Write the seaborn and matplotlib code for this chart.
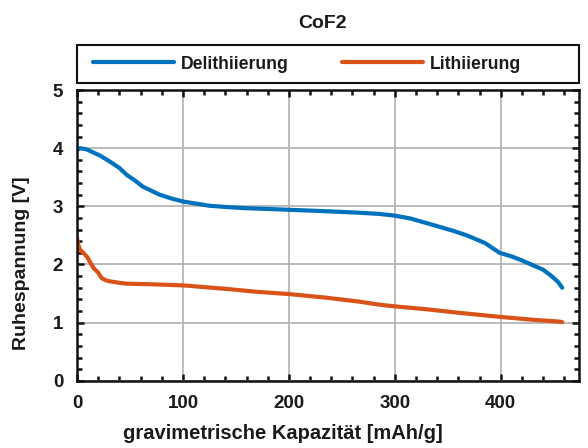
import numpy as np
import pandas as pd
import matplotlib
matplotlib.use("Agg")
import matplotlib.pyplot as plt
import seaborn as sns
from matplotlib.ticker import MultipleLocator
from matplotlib.patches import Rectangle

# Data
deli_x = [0, 3, 9, 15, 22, 31, 40, 47, 55, 62, 70, 78, 90, 101, 115, 125, 140, 157, 180, 201, 230, 267, 285, 300, 315, 336, 355, 368, 385, 399, 410, 420, 430, 440, 448, 454, 458]
deli_y = [3.97, 4.0, 3.98, 3.93, 3.87, 3.77, 3.66, 3.54, 3.44, 3.34, 3.27, 3.2, 3.13, 3.08, 3.04, 3.01, 2.99, 2.97, 2.955, 2.94, 2.92, 2.89, 2.87, 2.84, 2.79, 2.68, 2.58, 2.5, 2.37, 2.2, 2.14, 2.07, 1.99, 1.91, 1.8, 1.7, 1.6]
lith_x = [0, 1, 3, 6, 10, 12, 15.5, 20, 23, 27, 31, 40, 47, 70, 101, 141, 170, 201, 235, 267, 285, 300, 330, 360, 399, 430, 454, 458]
lith_y = [2.46, 2.35, 2.25, 2.2, 2.12, 2.05, 1.94, 1.86, 1.77, 1.73, 1.71, 1.685, 1.67, 1.66, 1.64, 1.58, 1.53, 1.49, 1.43, 1.36, 1.31, 1.28, 1.23, 1.17, 1.1, 1.05, 1.02, 1.01]
labels = ["Delithiierung", "Lithiierung"]
colors = ["#0072BD", "#D95319"]

df = pd.concat([
    pd.DataFrame({"x": deli_x, "y": deli_y, "Serie": labels[0]}),
    pd.DataFrame({"x": lith_x, "y": lith_y, "Serie": labels[1]}),
])

sns.set_theme(style="white")
plt.rcParams['font.family'] = ['Liberation Sans', 'DejaVu Sans']
plt.rcParams['font.weight'] = 'bold'

fig = plt.figure(figsize=(5.88, 4.48), dpi=100)
ax = fig.add_axes([0.131, 0.150, 0.854, 0.649])

sns.lineplot(data=df, x="x", y="y", hue="Serie", palette=dict(zip(labels, colors)),
             sort=False, estimator=None, linewidth=3.0, ax=ax, legend=True)

ax.set_xlim(0, 474)
ax.set_ylim(0, 5)
ax.xaxis.set_major_locator(MultipleLocator(100))
ax.xaxis.set_minor_locator(MultipleLocator(20))
ax.yaxis.set_major_locator(MultipleLocator(1))
ax.yaxis.set_minor_locator(MultipleLocator(0.2))
ax.grid(True, which='major', color='#b5b5b5', linewidth=1.3)
ax.set_axisbelow(True)
for s in ax.spines.values():
    s.set_color('#111111')
    s.set_linewidth(1.8)
ax.tick_params(which='both', direction='in', top=True, right=True, bottom=True, left=True,
               color='#111111', labelsize=13.5, labelcolor='#1a1a1a')
ax.tick_params(axis='x', pad=10)
ax.tick_params(axis='y', pad=10)
ax.tick_params(which='major', length=5, width=1.8)
ax.tick_params(which='minor', length=3.5, width=1.8)
for lab in ax.get_xticklabels() + ax.get_yticklabels():
    lab.set_fontweight('bold')
ax.set_xlabel("gravimetrische Kapazität [mAh/g]", fontsize=14.5, fontweight='bold',
              color='#1a1a1a')
ax.set_ylabel("Ruhespannung [V]", fontsize=14, fontweight='bold', color='#1a1a1a')
ax.xaxis.set_label_coords(0.409, -0.148)
ax.yaxis.set_label_coords(-0.094, 0.404)

leg = ax.legend(loc='center left', bbox_to_anchor=(0.032, 1.089), ncol=2, frameon=False,
                handlelength=4.6, borderaxespad=0, borderpad=0, columnspacing=3.0,
                prop={'size': 12.7, 'weight': 'bold'}, handletextpad=0.4)
for h in leg.get_lines():
    h.set_linewidth(3.0)
for t in leg.get_texts():
    t.set_color('#1a1a1a')
ax.add_patch(Rectangle((0, 1.024), 1.0, 0.131, transform=ax.transAxes, fill=False,
                       edgecolor='#111111', linewidth=1.5, clip_on=False))

fig.text(0.548, 0.948, "CoF2", ha='center', va='center', fontsize=14, fontweight='bold',
         color='#1a1a1a')

fig.savefig("out.png", dpi=100)
